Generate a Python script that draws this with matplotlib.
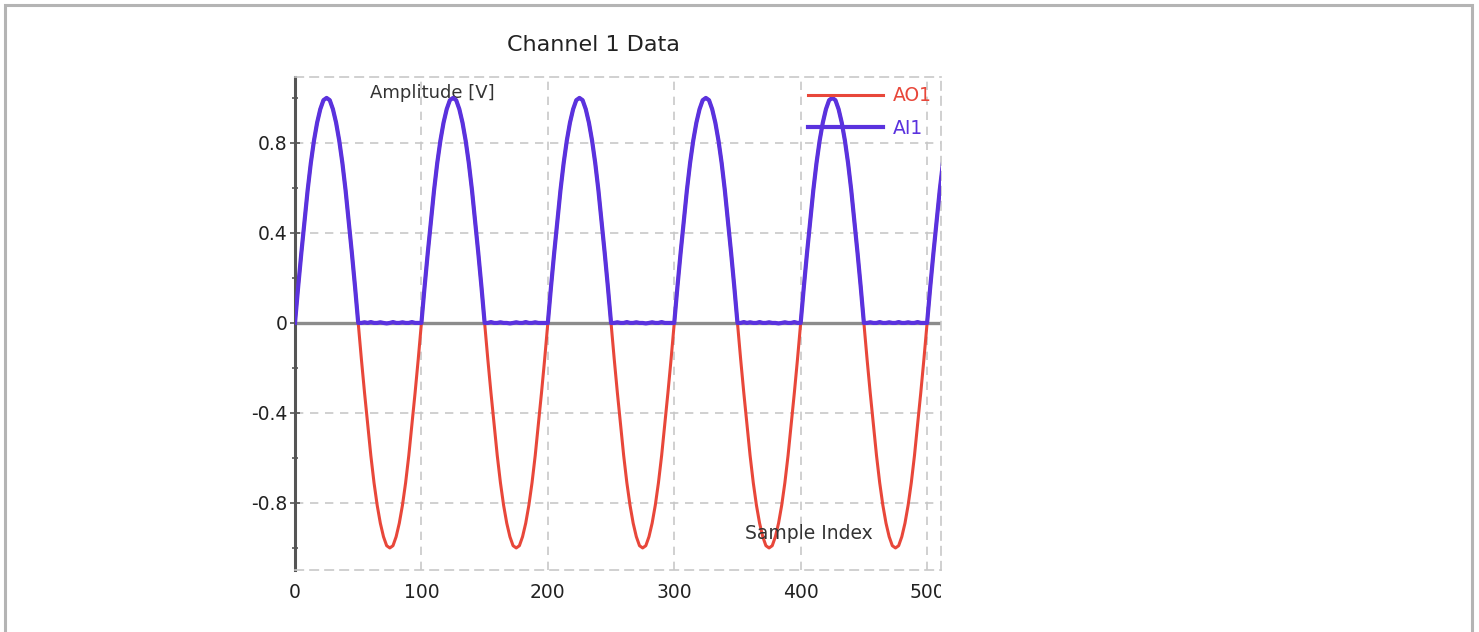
import numpy as np
import matplotlib
matplotlib.use('Agg')
import matplotlib.pyplot as plt
from matplotlib.patches import Rectangle
from matplotlib.transforms import Bbox, TransformedBbox

matplotlib.rcParams['font.family'] = 'DejaVu Sans'

# values read every 2.5 samples
ao1 = [
    0.00, 0.16, 0.31, 0.45, 0.59, 0.71, 0.81, 0.89, 0.95, 0.99, 1.00, 0.99, 0.95, 0.89, 0.81, 0.71, 0.59, 0.45, 0.31, 0.16,
    0.00, -0.16, -0.31, -0.45, -0.59, -0.71, -0.81, -0.89, -0.95, -0.99, -1.00, -0.99, -0.95, -0.89, -0.81, -0.71, -0.59, -0.45, -0.31, -0.16,
    0.00, 0.16, 0.31, 0.45, 0.59, 0.71, 0.81, 0.89, 0.95, 0.99, 1.00, 0.99, 0.95, 0.89, 0.81, 0.71, 0.59, 0.45, 0.31, 0.16,
    0.00, -0.16, -0.31, -0.45, -0.59, -0.71, -0.81, -0.89, -0.95, -0.99, -1.00, -0.99, -0.95, -0.89, -0.81, -0.71, -0.59, -0.45, -0.31, -0.16,
    0.00, 0.16, 0.31, 0.45, 0.59, 0.71, 0.81, 0.89, 0.95, 0.99, 1.00, 0.99, 0.95, 0.89, 0.81, 0.71, 0.59, 0.45, 0.31, 0.16,
    0.00, -0.16, -0.31, -0.45, -0.59, -0.71, -0.81, -0.89, -0.95, -0.99, -1.00, -0.99, -0.95, -0.89, -0.81, -0.71, -0.59, -0.45, -0.31, -0.16,
    0.00, 0.16, 0.31, 0.45, 0.59, 0.71, 0.81, 0.89, 0.95, 0.99, 1.00, 0.99, 0.95, 0.89, 0.81, 0.71, 0.59, 0.45, 0.31, 0.16,
    0.00, -0.16, -0.31, -0.45, -0.59, -0.71, -0.81, -0.89, -0.95, -0.99, -1.00, -0.99, -0.95, -0.89, -0.81, -0.71, -0.59, -0.45, -0.31, -0.16,
    0.00, 0.16, 0.31, 0.45, 0.59, 0.71, 0.81, 0.89, 0.95, 0.99, 1.00, 0.99, 0.95, 0.89, 0.81, 0.71, 0.59, 0.45, 0.31, 0.16,
    0.00, -0.16, -0.31, -0.45, -0.59, -0.71, -0.81, -0.89, -0.95, -0.99, -1.00, -0.99, -0.95, -0.89, -0.81, -0.71, -0.59, -0.45, -0.31, -0.16,
    0.00, 0.16, 0.31, 0.45, 0.59, 0.71,
]
ai1 = [
    0.00, 0.16, 0.31, 0.45, 0.59, 0.71, 0.81, 0.89, 0.95, 0.99, 1.00, 0.99, 0.95, 0.89, 0.81, 0.71, 0.59, 0.45, 0.31, 0.16,
    0.00, 0.00, 0.003, 0.00, 0.004, 0.00, 0.00, 0.003, 0.00, -0.002, 0.00, 0.004, 0.00, 0.00, 0.003, 0.00, 0.00, 0.004, 0.00, 0.00,
    0.00, 0.16, 0.31, 0.45, 0.59, 0.71, 0.81, 0.89, 0.95, 0.99, 1.00, 0.99, 0.95, 0.89, 0.81, 0.71, 0.59, 0.45, 0.31, 0.16,
    0.00, 0.00, 0.004, 0.00, 0.00, 0.003, 0.00, 0.00, -0.002, 0.00, 0.003, 0.00, 0.00, 0.004, 0.00, 0.00, 0.003, 0.00, 0.00, 0.00,
    0.00, 0.16, 0.31, 0.45, 0.59, 0.71, 0.81, 0.89, 0.95, 0.99, 1.00, 0.99, 0.95, 0.89, 0.81, 0.71, 0.59, 0.45, 0.31, 0.16,
    0.00, 0.00, 0.003, 0.00, 0.00, 0.004, 0.00, 0.00, 0.003, 0.00, 0.00, -0.002, 0.00, 0.003, 0.00, 0.00, 0.004, 0.00, 0.00, 0.00,
    0.00, 0.16, 0.31, 0.45, 0.59, 0.71, 0.81, 0.89, 0.95, 0.99, 1.00, 0.99, 0.95, 0.89, 0.81, 0.71, 0.59, 0.45, 0.31, 0.16,
    0.00, 0.00, 0.004, 0.00, 0.003, 0.00, 0.00, 0.004, 0.00, 0.00, 0.003, 0.00, 0.00, -0.002, 0.00, 0.003, 0.00, 0.00, 0.004, 0.00,
    0.00, 0.16, 0.31, 0.45, 0.59, 0.71, 0.81, 0.89, 0.95, 0.99, 1.00, 0.99, 0.95, 0.89, 0.81, 0.71, 0.59, 0.45, 0.31, 0.16,
    0.00, 0.00, 0.003, 0.00, 0.00, 0.004, 0.00, 0.00, 0.003, 0.00, 0.00, 0.004, 0.00, 0.00, 0.003, 0.00, 0.00, 0.004, 0.00, 0.00,
    0.00, 0.16, 0.31, 0.45, 0.59, 0.71,
]
samples = np.arange(len(ao1)) * 2.5

x_ticks = [0, 100, 200, 300, 400, 500]
y_ticks = [-0.8, -0.4, 0, 0.4, 0.8]
y_tick_labels = ['-0.8', '-0.4', '0', '0.4', '0.8']
y_minor = [-1.0, -0.6, -0.2, 0.2, 0.6, 1.0]

RED = '#e8473a'
BLUE = '#5a32de'
GRID = '#c8c8c8'

W, H = 1479, 632
fig = plt.figure(figsize=(W / 100, H / 100), dpi=100)
ax = fig.add_axes([295 / W, 1 - 570 / H, (941 - 295) / W, (570 - 77) / H])

ax.plot(samples, ao1, color=RED, lw=2.2, label='AO1', zorder=3)
ax.plot(samples, ai1, color=BLUE, lw=3.0, label='AI1', zorder=4)
ax.axhline(0, color='#8c8c8c', lw=2.4, zorder=2)

ax.set_xlim(0, 511)
ax.set_ylim(-1.098, 1.093)

ax.set_xticks(x_ticks)
ax.set_yticks(y_ticks)
ax.set_yticklabels(y_tick_labels)
ax.set_yticks(y_minor, minor=True)
ax.grid(True, which='major', linestyle=(0, (5, 4)), color=GRID, lw=1.2)

ax.spines['left'].set_color('#555555')
ax.spines['left'].set_linewidth(2.2)
for s in ['top', 'right', 'bottom']:
    ax.spines[s].set_color(GRID)
    ax.spines[s].set_linestyle((0, (5, 4)))
    ax.spines[s].set_linewidth(1.2)

ax.tick_params(axis='y', which='major', direction='inout', length=7, width=1.2,
               color='#555555', labelsize=13.5, labelcolor='#222222', pad=2)
ax.tick_params(axis='y', which='minor', direction='inout', length=5, width=1.2,
               color='#555555')
ax.tick_params(axis='x', length=0, labelsize=13.5, labelcolor='#222222', pad=9)

clip = TransformedBbox(Bbox([[0, 0], [941 / W, 1]]), fig.transFigure)
for lbl in ax.get_xticklabels():
    lbl.set_clip_on(True)
    lbl.set_clip_box(clip)

ax.text(0.116, 0.968, 'Amplitude [V]', transform=ax.transAxes, fontsize=13,
        color='#333333', ha='left', va='center')
ax.text(0.697, 0.075, 'Sample Index', transform=ax.transAxes, fontsize=13.5,
        color='#333333', ha='left', va='center')

fig.text(593 / W, 1 - 45 / H, 'Channel 1 Data', fontsize=16, color='#222222',
         ha='center', va='center')

ax.legend(loc='upper right', frameon=False, fontsize=13.5, labelcolor='linecolor',
          handlelength=4.0, borderaxespad=0.1, labelspacing=0.7, handletextpad=0.5)

# outer frame of the widget
fig.add_artist(Rectangle((4.5 / W, -0.1), (1471.5 - 4.5) / W, 1.1 - 4.5 / H,
                         transform=fig.transFigure, fill=False,
                         edgecolor='#b4b4b4', lw=2.2))

fig.savefig('out.png', dpi=100)
